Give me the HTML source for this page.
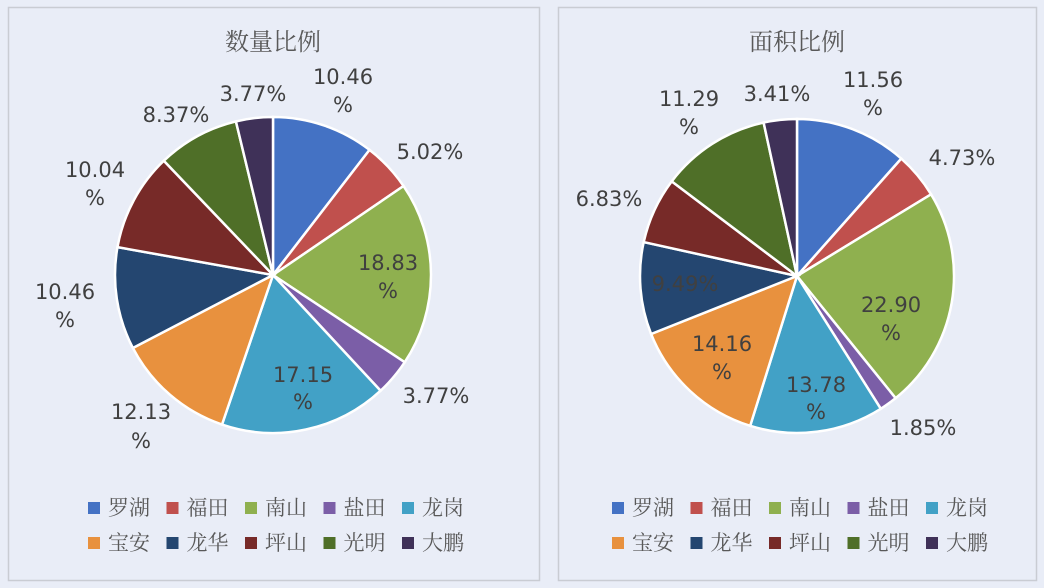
<!DOCTYPE html>
<html><head><meta charset="utf-8"><style>
body{margin:0;background:#e9edf7;width:1044px;height:588px;overflow:hidden}
svg{display:block}
.t{font-family:"Noto Serif CJK SC","Liberation Serif",serif;fill:#595959}
.l{font-family:"DejaVu Sans","Liberation Sans",sans-serif;font-size:21px;fill:#404040}
</style></head><body>
<svg id="s" width="1044" height="588" xmlns="http://www.w3.org/2000/svg">
<rect x="8.5" y="7.5" width="531" height="573" fill="#e9edf7" stroke="#c9ccd3" stroke-width="1.5"/>
<rect x="558.5" y="7.5" width="478" height="573" fill="#e9edf7" stroke="#c9ccd3" stroke-width="1.5"/>
<g id="p1"></g><g id="p2"></g>
<text class="t" x="273" y="50" font-size="24" text-anchor="middle">数量比例</text>
<text class="t" x="797" y="50" font-size="24" text-anchor="middle">面积比例</text>
<g class="l" text-anchor="middle" dominant-baseline="central">
<text x="343" y="77">10.46</text><text x="343" y="105">%</text>
<text x="430" y="152">5.02%</text>
<text x="388" y="263">18.83</text><text x="388" y="291">%</text>
<text x="436" y="396">3.77%</text>
<text x="303" y="375">17.15</text><text x="303" y="402">%</text>
<text x="141" y="412">12.13</text><text x="141" y="441">%</text>
<text x="65" y="292">10.46</text><text x="65" y="320">%</text>
<text x="95" y="170">10.04</text><text x="95" y="198">%</text>
<text x="176" y="115">8.37%</text>
<text x="253" y="94">3.77%</text>
<text x="873" y="80">11.56</text><text x="873" y="108">%</text>
<text x="962" y="158">4.73%</text>
<text x="891" y="305">22.90</text><text x="891" y="333">%</text>
<text x="923" y="428">1.85%</text>
<text x="816" y="385">13.78</text><text x="816" y="412">%</text>
<text x="722" y="344">14.16</text><text x="722" y="372">%</text>
<text x="685" y="284">9.49%</text>
<text x="609" y="199">6.83%</text>
<text x="689" y="99">11.29</text><text x="689" y="127">%</text>
<text x="777" y="94">3.41%</text>
</g>
<g id="lg"></g>
</svg>
<script>
var C=["#4472c4","#c0504d","#8fb04f","#7b5ea7","#42a1c6","#e8913e","#244670","#772a28","#4f6f28","#3f3158"];
var N=["罗湖","福田","南山","盐田","龙岗","宝安","龙华","坪山","光明","大鹏"];
var ns="http://www.w3.org/2000/svg";
function pie(id,cx,cy,r,v){var g=document.getElementById(id),a=-Math.PI/2,s=0;v.forEach(function(x){s+=x});
v.forEach(function(x,i){var b=a+x/s*2*Math.PI;var p=document.createElementNS(ns,"path");
var x1=cx+r*Math.cos(a),y1=cy+r*Math.sin(a),x2=cx+r*Math.cos(b),y2=cy+r*Math.sin(b);
p.setAttribute("d","M"+cx+","+cy+"L"+x1+","+y1+"A"+r+","+r+" 0 "+(b-a>Math.PI?1:0)+" 1 "+x2+","+y2+"Z");
p.setAttribute("fill",C[i]);p.setAttribute("stroke","#fff");p.setAttribute("stroke-width","2.5");g.appendChild(p);a=b;});}
pie("p1",273,275,158,[10.46,5.02,18.83,3.77,17.15,12.13,10.46,10.04,8.37,3.77]);
pie("p2",797,276,157,[11.56,4.73,22.90,1.85,13.78,14.16,9.49,6.83,11.29,3.41]);
var lg=document.getElementById("lg");
[88,612].forEach(function(x0){for(var i=0;i<10;i++){var x=x0+(i%5)*78.5,y=i<5?508:543;
var r=document.createElementNS(ns,"rect");r.setAttribute("x",x);r.setAttribute("y",y-6);r.setAttribute("width",12);r.setAttribute("height",12);r.setAttribute("fill",C[i]);lg.appendChild(r);
var t=document.createElementNS(ns,"text");t.setAttribute("x",x+20);t.setAttribute("y",y+7);t.setAttribute("class","t");t.setAttribute("font-size","21");t.textContent=N[i];lg.appendChild(t);}});
</script>
</body></html>
